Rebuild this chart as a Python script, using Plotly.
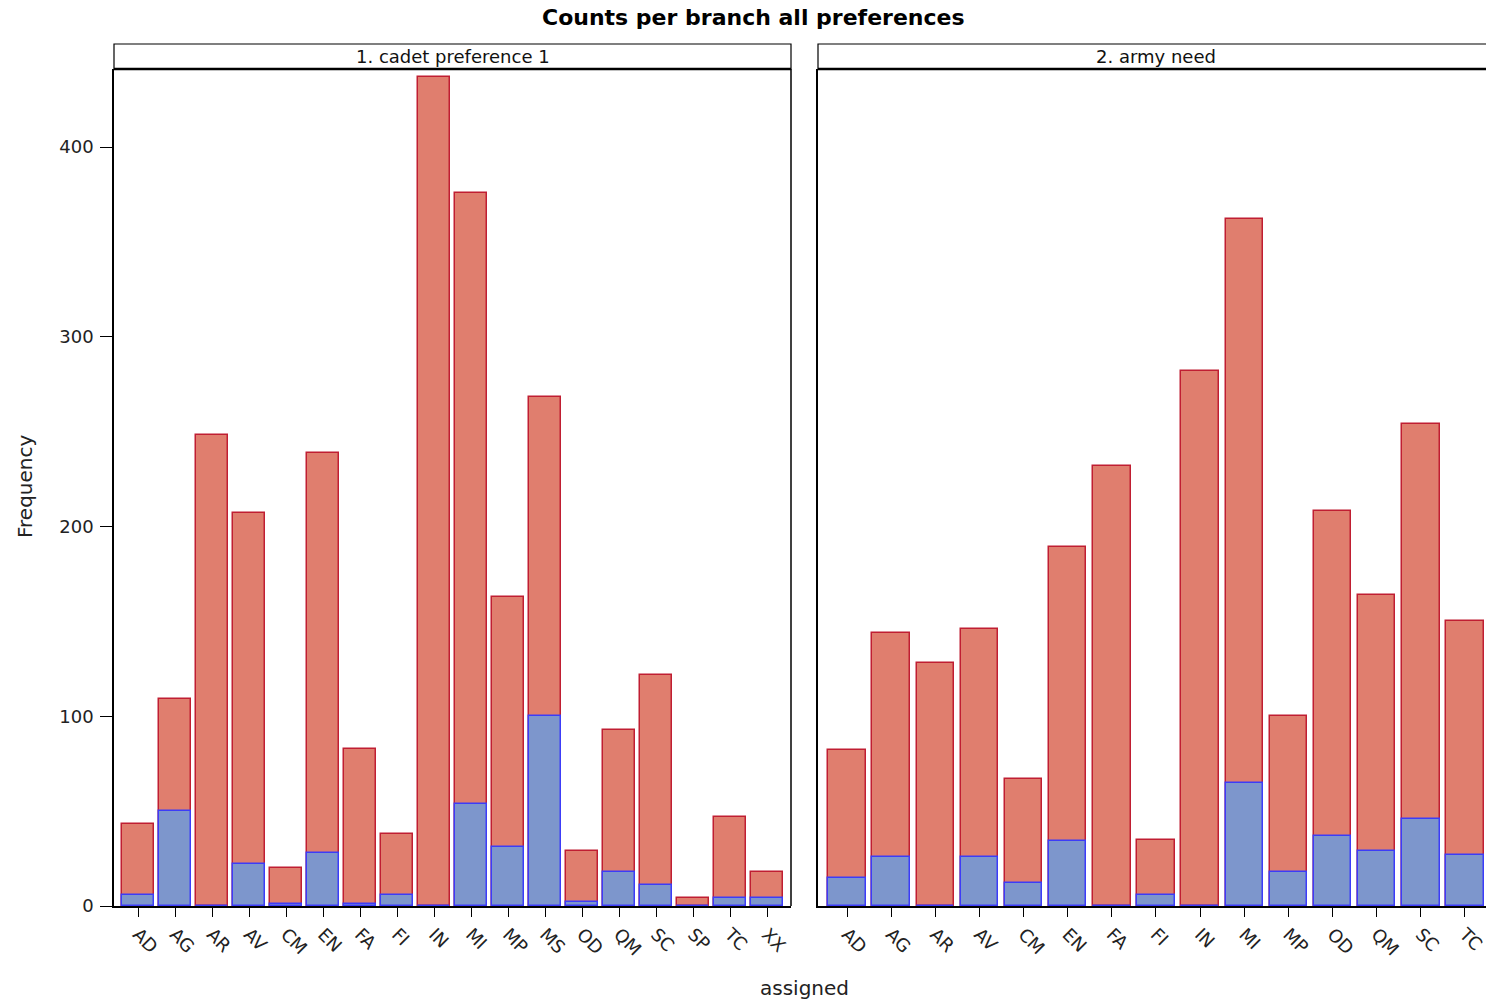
import plotly.graph_objects as go

# ---- data ----
cats1 = ["AD", "AG", "AR", "AV", "CM", "EN", "FA", "FI", "IN", "MI", "MP", "MS", "OD", "QM", "SC", "SP", "TC", "XX"]
total1 = [43, 109, 248, 207, 20, 239, 83, 38, 437, 376, 163, 268, 29, 93, 122, 4, 47, 18]
part1 = [6, 50, 0, 22, 1, 28, 1, 6, 0, 54, 31, 100, 2, 18, 11, 0, 4, 4]

cats2 = ["AD", "AG", "AR", "AV", "CM", "EN", "FA", "FI", "IN", "MI", "MP", "OD", "QM", "SC", "TC"]
total2 = [82, 144, 128, 146, 67, 189, 232, 35, 282, 362, 100, 208, 164, 254, 150]
part2 = [15, 26, 0, 26, 12, 34, 0, 6, 0, 65, 18, 37, 29, 46, 27]

panel_titles = ["1. cadet preference 1", "2. army need"]
yticks = [0, 100, 200, 300, 400]

# ---- style ----
RED_FILL = "#E07E6E"
RED_LINE = "#C01E32"
BLUE_FILL = "#7D96CC"
BLUE_LINE = "#3C3CF8"
FONT = "DejaVu Sans"

W, H = 1486, 1002
P_LEFT, P_TOP, P_BOTTOM, P_RIGHT = 114, 69, 906, 1486
ML, MT = P_LEFT, P_TOP
MB = H - P_BOTTOM
MR = W - P_RIGHT
PW = W - ML - MR
PH = H - MT - MB

def px_to_xpaper(px):
    return (px - ML) / PW

def py_to_ypaper(py):
    return (H - MB - py) / PH

d1 = [0, px_to_xpaper(791)]
d2 = [px_to_xpaper(818), 1.0]

fig = go.Figure()
bw = 0.85
fig.add_trace(go.Bar(x=cats1, y=total1, width=bw, marker=dict(color=RED_FILL, line=dict(color=RED_LINE, width=1.5)),
                     xaxis="x", yaxis="y", showlegend=False))
fig.add_trace(go.Bar(x=cats1, y=part1, width=bw, marker=dict(color=BLUE_FILL, line=dict(color=BLUE_LINE, width=1.5)),
                     xaxis="x", yaxis="y", showlegend=False))
fig.add_trace(go.Bar(x=cats2, y=total2, width=bw, marker=dict(color=RED_FILL, line=dict(color=RED_LINE, width=1.5)),
                     xaxis="x2", yaxis="y2", showlegend=False))
fig.add_trace(go.Bar(x=cats2, y=part2, width=bw, marker=dict(color=BLUE_FILL, line=dict(color=BLUE_LINE, width=1.5)),
                     xaxis="x2", yaxis="y2", showlegend=False))

sp1 = 37.0
sp2 = 44.14
r1 = [-24 / sp1, -24 / sp1 + 677 / sp1]
r2 = [-29 / sp2, -29 / sp2 + (1486 - 818) / sp2]
yr = [0, (906 - 69) / 1.8975]

xcommon = dict(type="category", showline=True, linecolor="black", linewidth=1.5, ticks="outside",
               ticklen=9, tickcolor="black", tickwidth=1.2, tickangle=45, showgrid=False, zeroline=False,
               tickfont=dict(family=FONT, size=18, color="#222"))
fig.update_layout(
    width=W, height=H, barmode="overlay", plot_bgcolor="white", paper_bgcolor="white",
    margin=dict(l=ML, r=MR, t=MT, b=MB),
    xaxis=dict(domain=d1, range=r1, anchor="y", **xcommon),
    xaxis2=dict(domain=d2, range=r2, anchor="y2", **xcommon),
    yaxis=dict(domain=[0, 1], range=yr, showline=True, linecolor="black", linewidth=1.5, ticks="outside",
               ticklen=12, tickcolor="black", tickwidth=1.2, tickvals=yticks, showgrid=False, zeroline=False,
               ticklabelstandoff=3,
               tickfont=dict(family=FONT, size=18, color="#222")),
    yaxis2=dict(domain=[0, 1], range=yr, anchor="x2", showline=True, linecolor="black", linewidth=1.5,
                showticklabels=False, ticks="", showgrid=False, zeroline=False),
    bargap=0,
)

shapes = []
yh = py_to_ypaper(44)
shapes.append(dict(type="line", xref="paper", yref="paper", x0=d1[1], x1=d1[1], y0=0, y1=1,
                   line=dict(color="black", width=1.5)))
for d in (d1, [d2[0], 1.02]):
    shapes.append(dict(type="rect", xref="paper", yref="paper", x0=d[0], x1=d[1], y0=1, y1=yh,
                       line=dict(color="black", width=1.2), fillcolor="white", layer="above"))
    shapes.append(dict(type="line", xref="paper", yref="paper", x0=d[0], x1=d[1], y0=1, y1=1,
                       line=dict(color="black", width=2.5)))
fig.update_layout(shapes=shapes)

ann = []
hdr_y = (1 + yh) / 2
ann.append(dict(text=panel_titles[0], xref="paper", yref="paper", x=(d1[0] + d1[1]) / 2, y=hdr_y,
                showarrow=False, xanchor="center", yanchor="middle",
                font=dict(family=FONT, size=18, color="#111")))
ann.append(dict(text=panel_titles[1], xref="paper", yref="paper", x=px_to_xpaper((818 + 1494) / 2), y=hdr_y,
                showarrow=False, xanchor="center", yanchor="middle",
                font=dict(family=FONT, size=18, color="#111")))
ann.append(dict(text="<b>Counts per branch all preferences</b>", xref="paper", yref="paper",
                x=px_to_xpaper(753), y=py_to_ypaper(18), showarrow=False, xanchor="center", yanchor="middle",
                font=dict(family=FONT, size=22, color="black")))
ann.append(dict(text="Frequency", xref="paper", yref="paper", x=px_to_xpaper(25), y=py_to_ypaper(487),
                showarrow=False, xanchor="center", yanchor="middle", textangle=-90,
                font=dict(family=FONT, size=20, color="#222")))
ann.append(dict(text="assigned", xref="paper", yref="paper", x=px_to_xpaper(804), y=py_to_ypaper(988),
                showarrow=False, xanchor="center", yanchor="middle",
                font=dict(family=FONT, size=20, color="#222")))
fig.update_layout(annotations=ann)

fig.write_html("out.html", config={"displayModeBar": False},
               post_script="document.body.style.margin='0';document.body.style.overflow='hidden';")
